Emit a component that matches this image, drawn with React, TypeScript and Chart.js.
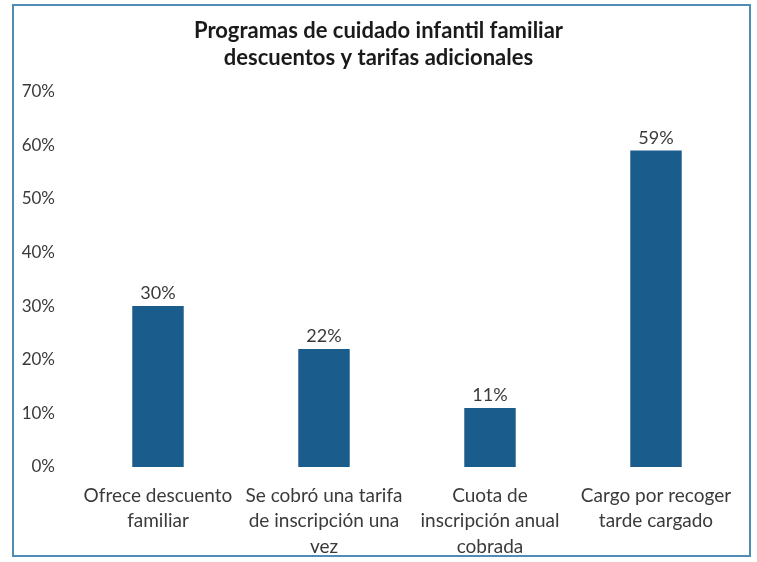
import React, { useEffect, useRef } from "react";
import { Chart, registerables } from "chart.js";

Chart.register(...registerables);

const titleLines = ["Programas de cuidado infantil familiar", "descuentos y tarifas adicionales"];
const categories: string[][] = [
  ["Ofrece descuento", "familiar"],
  ["Se cobró una tarifa", "de inscripción una", "vez"],
  ["Cuota de", "inscripción anual", "cobrada"],
  ["Cargo por recoger", "tarde cargado"],
];
const values = [30, 22, 11, 59];
const yMax = 70;
const yStep = 10;

const FONT = "Lato, 'Open Sans', sans-serif";

const labelPlugin = {
  id: "barLabels",
  afterDatasetsDraw(chart: any) {
    const ctx = chart.ctx;
    const meta = chart.getDatasetMeta(0);
    ctx.save();
    ctx.font = `18px ${FONT}`;
    ctx.fillStyle = "#3a3a3a";
    ctx.textAlign = "center";
    ctx.textBaseline = "alphabetic";
    meta.data.forEach((bar: any, i: number) => {
      ctx.fillText(values[i] + "%", bar.x, bar.y - 7);
    });
    ctx.restore();
  },
};

export default function App() {
  const ref = useRef<HTMLCanvasElement>(null);
  useEffect(() => {
    if (!ref.current) return;
    const chart = new Chart(ref.current, {
      type: "bar",
      data: {
        labels: categories,
        datasets: [
          {
            data: values,
            backgroundColor: "#1a5d8c",
            barPercentage: 0.31,
            categoryPercentage: 1,
          },
        ],
      },
      options: {
        animation: false,
        responsive: false,
        layout: { padding: { left: 4, right: 10, top: 0, bottom: 0 } },
        plugins: {
          legend: { display: false },
          tooltip: { enabled: false },
          title: {
            display: true,
            text: titleLines,
            color: "#1a1a1a",
            font: { family: FONT, size: 22, weight: "bold", lineHeight: 1.24 },
            padding: { top: 11, bottom: 20 },
          },
        },
        scales: {
          x: {
            grid: { display: false, drawTicks: false },
            border: { display: false },
            afterFit: (s: any) => {
              s.height = 88;
            },
            ticks: {
              color: "#3a3a3a",
              font: { family: FONT, size: 19, lineHeight: 1.34 },
              maxRotation: 0,
              autoSkip: false,
              padding: 16,
            },
          },
          y: {
            min: 0,
            max: yMax,
            grid: { display: false, drawTicks: false },
            border: { display: false },
            afterFit: (s: any) => {
              s.width = 57;
            },
            ticks: {
              stepSize: yStep,
              color: "#3a3a3a",
              font: { family: FONT, size: 17 },
              padding: 20,
              callback: (v: any) => v + "%",
            },
          },
        },
      },
      plugins: [labelPlugin],
    });
    return () => chart.destroy();
  }, []);
  return (
    <div
      style={{
        position: "fixed",
        left: 12,
        top: 4,
        width: 739,
        height: 553,
        border: "2px solid #4f8db5",
        boxSizing: "border-box",
        background: "#fff",
      }}
    >
      <canvas ref={ref} width={735} height={549} style={{ display: "block" }} />
    </div>
  );
}
